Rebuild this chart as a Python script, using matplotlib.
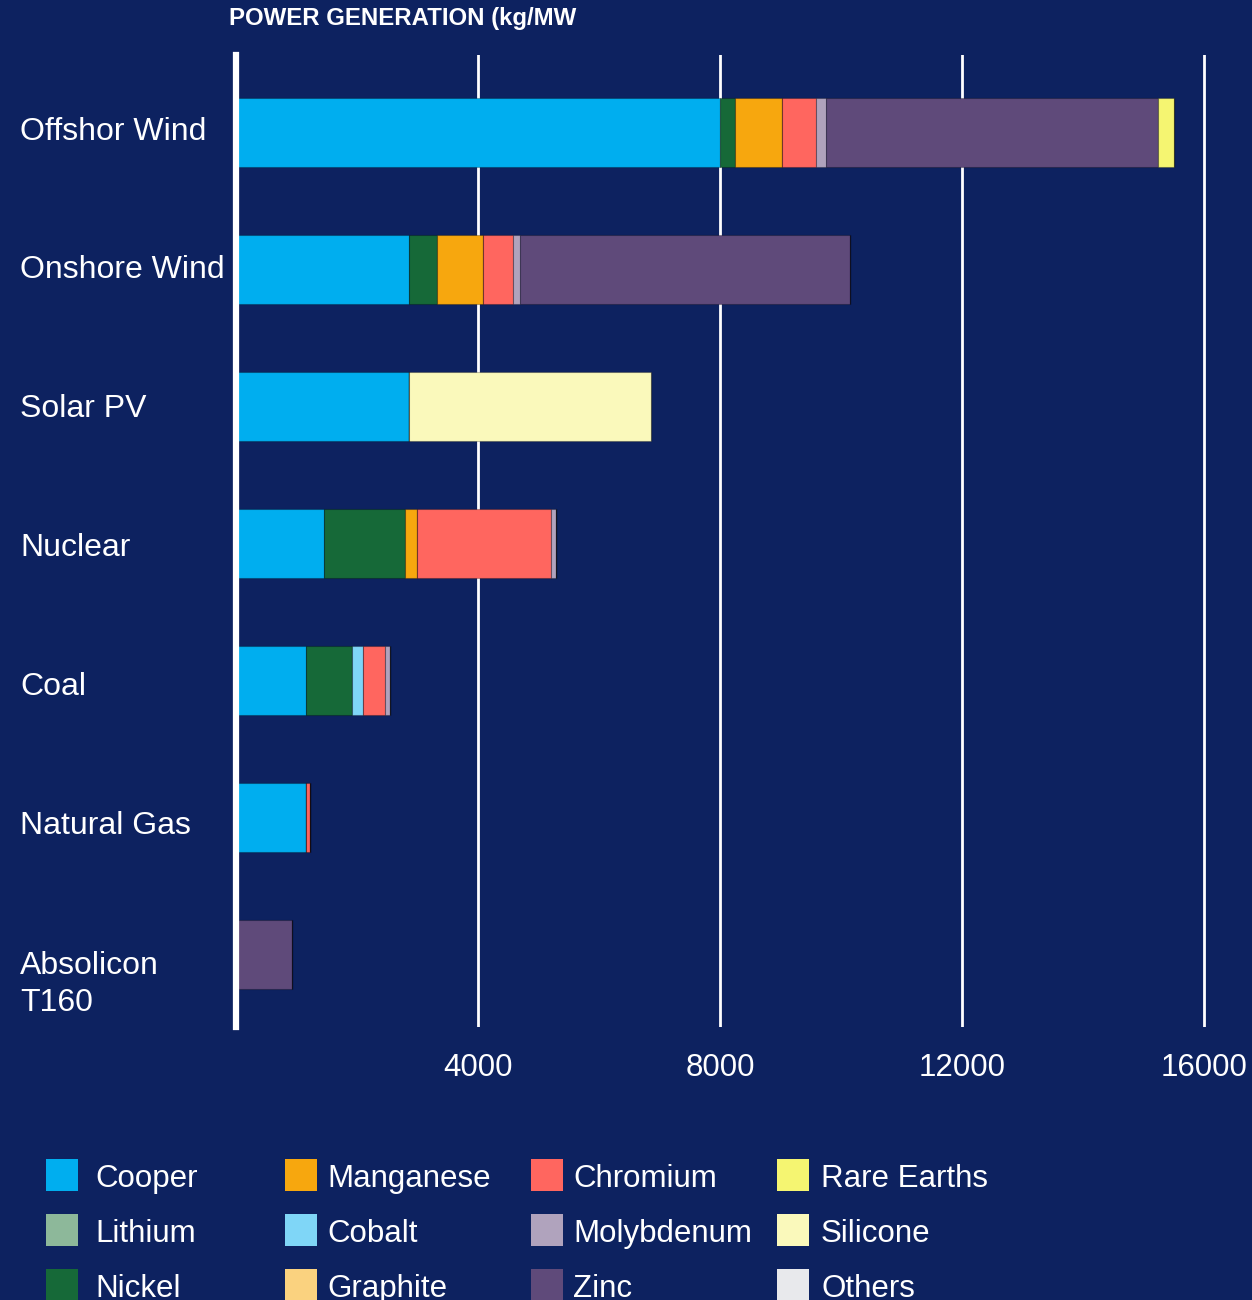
import matplotlib.pyplot as plt
from matplotlib.patches import Rectangle

plt.rcParams['font.family'] = ['Liberation Sans', 'DejaVu Sans']

BG = '#0d2260'
W, H = 1252, 1300

sources = ['Offshor Wind', 'Onshore Wind', 'Solar PV', 'Nuclear', 'Coal',
           'Natural Gas', 'Absolicon\nT160']

materials = ['Cooper', 'Lithium', 'Nickel', 'Manganese', 'Cobalt', 'Graphite',
             'Chromium', 'Molybdenum', 'Zinc', 'Rare Earths', 'Silicone', 'Others']
colors = ['#00aeef', '#8db89a', '#166938', '#f7a70e', '#7fd6f7', '#fad27f',
          '#ff665f', '#b0a3bd', '#5f4a7a', '#f5f571', '#faf9bb', '#e8e9ec']

# kg per MW, one list per material, in the order of `sources`
cooper      = [8000, 2860, 2860, 1460, 1157, 1157, 0]
lithium     = [0, 0, 0, 0, 0, 0, 0]
nickel      = [240, 460, 0, 1333, 760, 0, 0]
manganese   = [790, 760, 0, 204, 0, 0, 0]
cobalt      = [0, 0, 0, 0, 188, 0, 0]
graphite    = [0, 0, 0, 0, 0, 0, 0]
chromium    = [560, 495, 0, 2210, 363, 61, 0]
molybdenum  = [165, 115, 0, 77, 77, 0, 0]
zinc        = [5490, 5455, 0, 0, 0, 0, 920]
rare_earths = [265, 0, 0, 0, 0, 0, 0]
silicone    = [0, 0, 4000, 0, 0, 0, 0]
others      = [0, 0, 0, 0, 0, 0, 0]

series = [cooper, lithium, nickel, manganese, cobalt, graphite, chromium,
          molybdenum, zinc, rare_earths, silicone, others]

xticks = [4000, 8000, 12000, 16000]

fig = plt.figure(figsize=(W / 100, H / 100), dpi=100, facecolor=BG)
ax = fig.add_axes([0.1885, 0.21, 0.8020, 0.7477], facecolor=BG)

ypos = list(range(len(sources)))
left = [0] * len(sources)
for name, vals, col in zip(materials, series, colors):
    ax.barh(ypos, vals, left=left, height=0.5, color=col,
            edgecolor=(0, 0, 0, 0.25), linewidth=0.8, zorder=3, label=name)
    left = [a + b for a, b in zip(left, vals)]

ax.set_xlim(0, 16595)
ax.set_ylim(6.53, -0.565)

for x in xticks:
    ax.axvline(x, color='white', lw=2, zorder=1)
ax.axvline(0, color='white', lw=4.5, zorder=4, clip_on=False)

for s in ax.spines.values():
    s.set_visible(False)

ax.set_xticks(xticks)
ax.set_xticklabels([str(t) for t in xticks])
ax.tick_params(axis='x', length=0, pad=19, labelsize=22.5, colors='white')
ax.set_yticks([])

# category labels down the left edge; the first line of each label sits on
# an evenly spaced baseline, extra lines run below it
line_h = 38.5
for i, lab in enumerate(sources):
    base = 139.5 + 138.9 * i + line_h * lab.count('\n')
    fig.text(20 / W, 1 - base / H, lab, ha='left', va='baseline',
             fontsize=23, color='white', linespacing=1.33)

fig.text(229 / W, 1 - 18 / H, 'POWER GENERATION (kg/MW', ha='left',
         va='center', fontsize=17.3, fontweight='bold', color='white')

# legend in four columns of three
col_x = [46, 285, 531, 777]
text_x = [95, 327, 573, 821]
row_y = [1159, 1214, 1269]
for i, (name, col) in enumerate(zip(materials, colors)):
    c = i // 3
    ry = row_y[i % 3]
    fig.patches.append(Rectangle((col_x[c] / W, 1 - (ry + 32) / H),
                                 32 / W, 32 / H, transform=fig.transFigure,
                                 facecolor=col, edgecolor='none'))
    fig.text(text_x[c] / W, 1 - (ry + 20) / H, name, ha='left',
             va='center', fontsize=22.5, color='white')

fig.savefig('out.png', dpi=100, facecolor=BG)
